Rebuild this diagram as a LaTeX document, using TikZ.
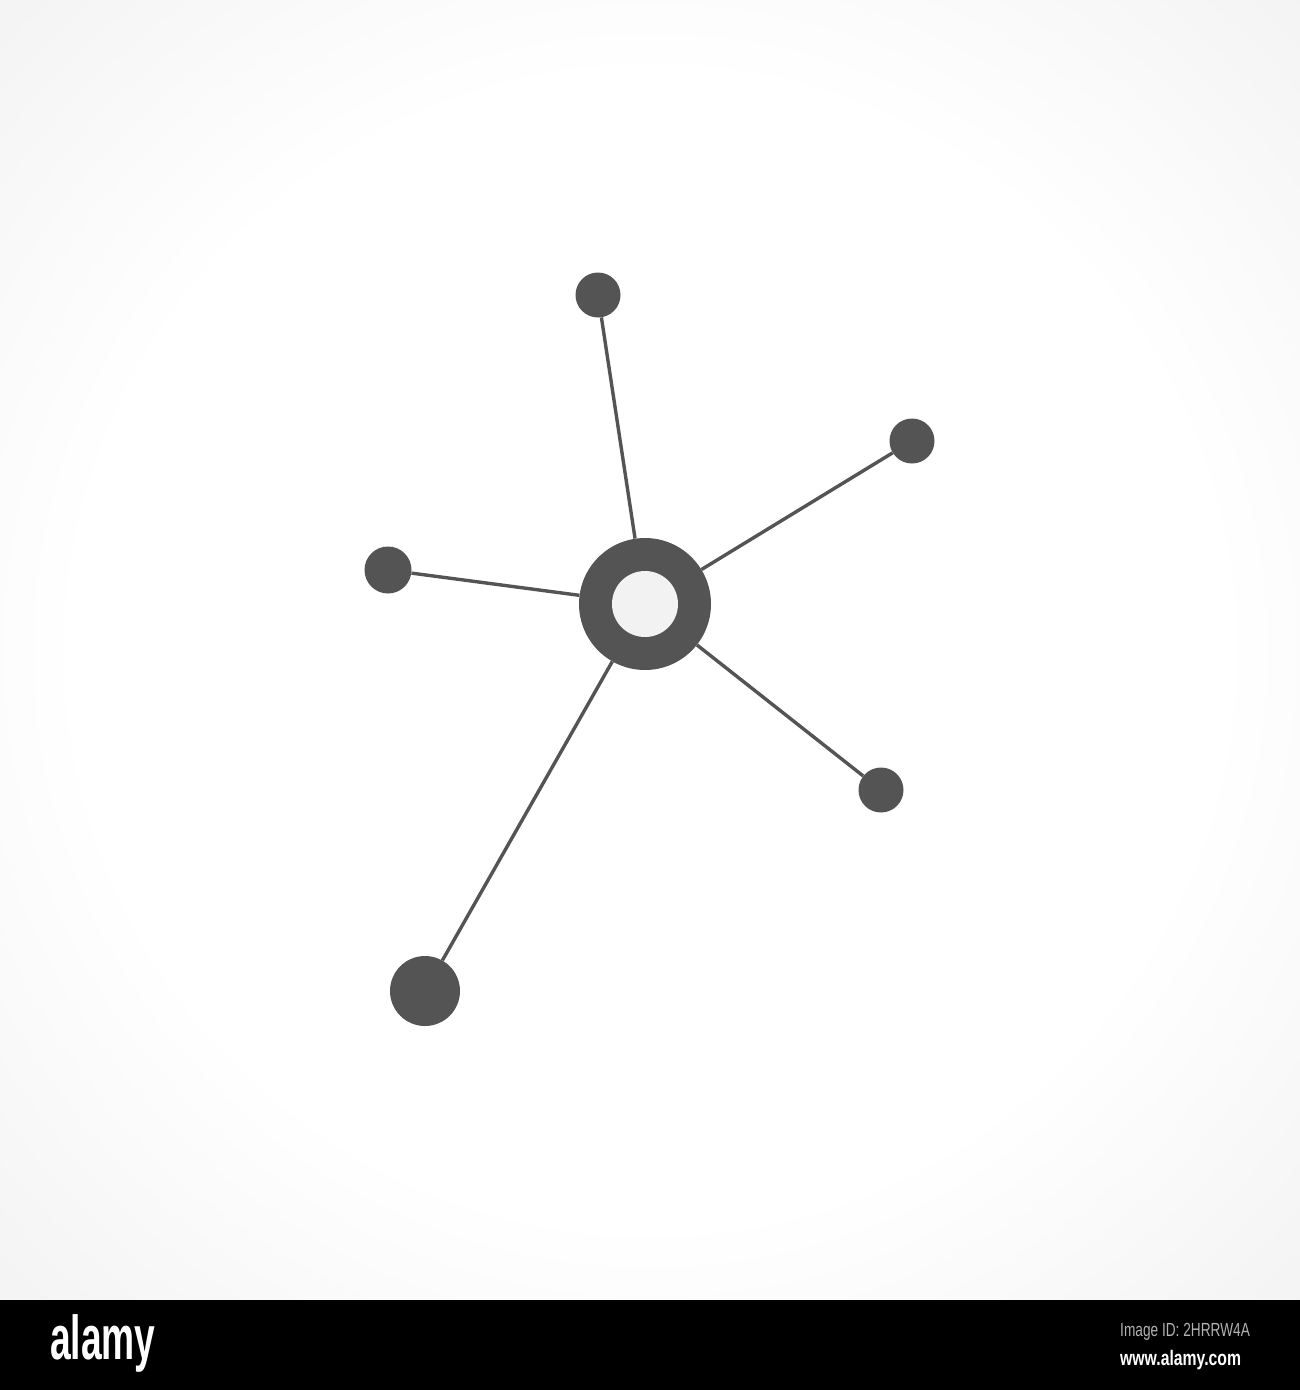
\documentclass[tikz,border=0pt]{standalone}
\usepackage{fontspec}
\setmainfont{Liberation Sans}
\definecolor{dark}{HTML}{545454}
\definecolor{hole}{HTML}{F2F2F2}
\definecolor{midgray}{HTML}{EBEBEB}
\definecolor{edgegray}{HTML}{D6D6D6}
\pgfdeclareradialshading{bgshade}{\pgfpoint{0bp}{0bp}}{color(0bp)=(white); color(22bp)=(white); color(45bp)=(midgray); color(71bp)=(edgegray)}
\tikzset{
  sat/.style={circle, fill=dark, inner sep=0pt, minimum size=#1},
  link/.style={draw=dark, line width=3.4pt},
}
\begin{document}
\begin{tikzpicture}[x=1pt,y=-1pt]
\useasboundingbox (0,0) rectangle (1300,1390);
\shade[shading=bgshade] (0,0) rectangle (1300,1300);
\fill[black] (0,1300) rectangle (1300,1390);
% nodes
\node[sat=132pt] (c) at (645,604) {};
\node[circle, fill=hole, inner sep=0pt, minimum size=66pt] (ci) at (c) {};
\node[sat=45pt] (s1) at (598,295) {};
\node[sat=45pt] (s2) at (912,441) {};
\node[sat=47pt] (s3) at (388,570) {};
\node[sat=45pt] (s4) at (881,790) {};
\node[sat=70pt] (s5) at (425,991) {};
% connectors
\foreach \s in {s1,s2,s3,s4,s5} \draw[link] (c) -- (\s);
% bottom bar text
\node[anchor=west, text=white, inner sep=0pt] (logo) at (50,1343) {\scalebox{0.6}[1]{\fontsize{62}{62}\selectfont\bfseries alamy}};
\node[anchor=west, text=gray!60, inner sep=0pt] (imgid) at (1120,1332) {\scalebox{0.72}[1]{\fontsize{19}{19}\selectfont Image ID: 2HRRW4A}};
\node[anchor=west, text=white, inner sep=0pt] (www) at (1120,1360) {\scalebox{0.75}[1]{\fontsize{21}{21}\selectfont\bfseries www.alamy.com}};
\end{tikzpicture}
\end{document}
